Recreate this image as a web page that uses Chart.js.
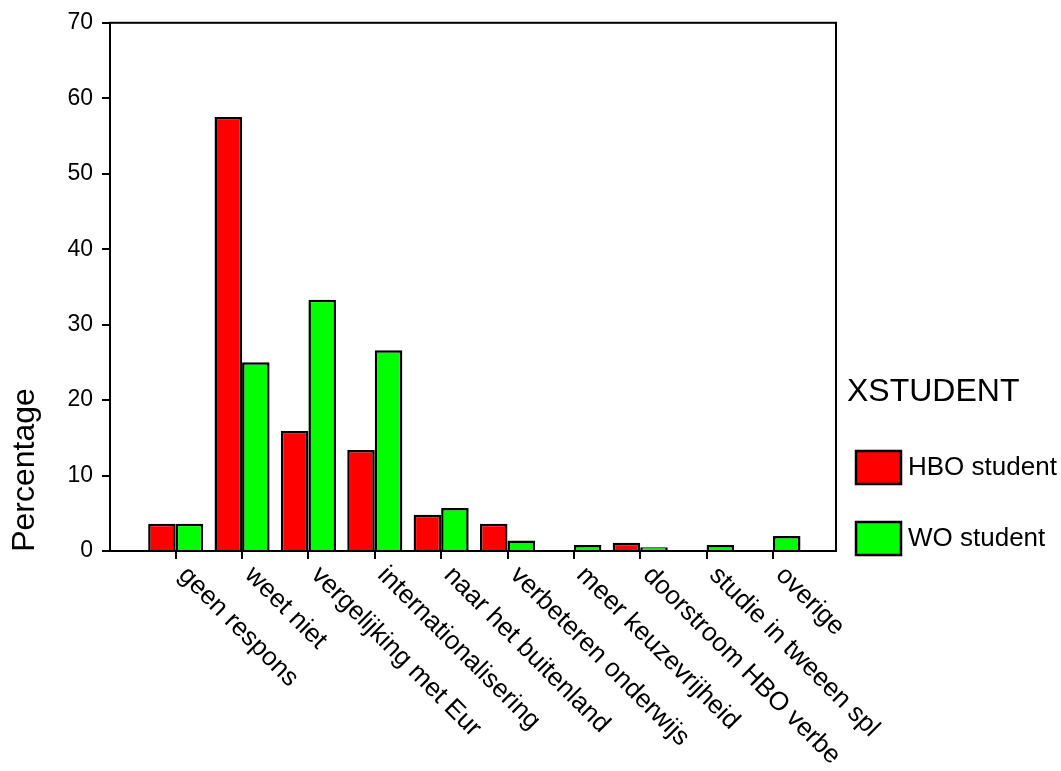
<!DOCTYPE html>
<html>
<head>
<meta charset="utf-8">
<title>XSTUDENT</title>
<script src="https://cdn.jsdelivr.net/npm/chart.js@4.4.1/dist/chart.umd.min.js"></script>
<style>
    html, body { margin: 0; padding: 0; background: #ffffff; }
    #wrap { width: 1061px; height: 771px; }
</style>
</head>
<body>
<div id="wrap"><canvas id="ChartXstudent" width="1061" height="771"></canvas></div>
<script>
// data
var categories = ['geen respons', 'weet niet', 'vergelijking met Eur', 'internationalisering',
    'naar het buitenland', 'verbeteren onderwijs', 'meer keuzevrijheid',
    'doorstroom HBO verbe', 'studie in tweeen spl', 'overige'];
var hboValues = [3.6, 57.5, 15.9, 13.4, 4.8, 3.6, 0, 1.1, 0, 0];
var woValues = [3.6, 25.0, 33.3, 26.6, 5.7, 1.4, 0.8, 0.5, 0.8, 2.0];
var yTicks = [0, 10, 20, 30, 40, 50, 60, 70];
var seriesNames = ['HBO student', 'WO student'];
var legendTitle = 'XSTUDENT';
var axisTitle = 'Percentage';

var fontFamily = '"Liberation Sans", Arial, sans-serif';

function toPoints(values) {
    var pts = [];
    for (i = 0; i < values.length; ++i) {
        pts.push({ x: i, y: values[i] });
    }
    return pts;
}

// frame, rotated category labels, y title and legend
var decorPlugin = {
    id: 'decor',
    afterDraw: function (chart) {
        var ctx = chart.ctx;
        var area = chart.chartArea;
        var xScale = chart.scales.x;

        ctx.save();
        ctx.strokeStyle = '#000';
        ctx.lineWidth = 2;
        ctx.strokeRect(area.left, area.top, area.right - area.left, area.bottom - area.top);

        ctx.fillStyle = '#000';
        ctx.font = '26px ' + fontFamily;
        ctx.textAlign = 'left';
        ctx.textBaseline = 'top';
        for (i = 0; i < categories.length; ++i) {
            var px = xScale.getPixelForValue(i);
            ctx.save();
            ctx.translate(px + 16, area.bottom + 11);
            ctx.rotate(Math.PI / 4);
            ctx.fillText(categories[i], 0, 0);
            ctx.restore();
        }

        ctx.save();
        ctx.font = '32px ' + fontFamily;
        ctx.textAlign = 'center';
        ctx.textBaseline = 'alphabetic';
        ctx.translate(34, 470);
        ctx.rotate(-Math.PI / 2);
        ctx.fillText(axisTitle, 0, 0);
        ctx.restore();

        var lx = area.right + 11;
        ctx.font = '32px ' + fontFamily;
        ctx.textBaseline = 'middle';
        ctx.fillText(legendTitle, lx, 392);

        ctx.font = '26px ' + fontFamily;
        var ds = chart.data.datasets;
        for (i = 0; i < ds.length; ++i) {
            var by = 451 + i * 71;
            ctx.fillStyle = ds[i].backgroundColor;
            ctx.fillRect(lx + 9, by, 45, 33);
            ctx.strokeStyle = '#000';
            ctx.lineWidth = 2.5;
            ctx.strokeRect(lx + 9, by, 45, 33);
            ctx.fillStyle = '#000';
            ctx.fillText(ds[i].label, lx + 61, by + 17);
        }
        ctx.restore();
    }
};

const data = {
    datasets: [{
        label: seriesNames[0],
        backgroundColor: '#ff0000',
        borderColor: '#000000',
        borderWidth: 2.5,
        data: toPoints(hboValues)
    }, {
        label: seriesNames[1],
        backgroundColor: '#00ff00',
        borderColor: '#000000',
        borderWidth: 2.5,
        data: toPoints(woValues)
    }]
};

const config = {
    type: 'bar',
    data: data,
    plugins: [decorPlugin],
    options: {
        responsive: false,
        animation: false,
        devicePixelRatio: 1,
        layout: {
            padding: { left: 0, top: 15, right: 225, bottom: 0 }
        },
        datasets: {
            bar: {
                categoryPercentage: 0.83,
                barPercentage: 1.0
            }
        },
        plugins: {
            legend: { display: false },
            tooltip: { enabled: false }
        },
        scales: {
            x: {
                type: 'linear',
                offset: false,
                min: -0.99,
                max: 9.95,
                afterBuildTicks: function (scale) {
                    scale.ticks = categories.map(function (c, i) { return { value: i }; });
                },
                afterFit: function (scale) {
                    scale.height = 220;
                },
                ticks: { display: false, autoSkip: false },
                grid: {
                    offset: false,
                    drawOnChartArea: false,
                    drawTicks: true,
                    tickLength: 8,
                    color: '#000000',
                    lineWidth: 2
                },
                border: { color: '#000000', width: 2 }
            },
            y: {
                min: yTicks[0],
                max: yTicks[yTicks.length - 1],
                afterBuildTicks: function (scale) {
                    scale.ticks = yTicks.map(function (v) { return { value: v }; });
                },
                afterFit: function (scale) {
                    scale.width = 110;
                },
                ticks: {
                    color: '#000000',
                    padding: 9,
                    font: { family: fontFamily, size: 23 }
                },
                grid: {
                    drawOnChartArea: false,
                    drawTicks: true,
                    tickLength: 8,
                    color: '#000000',
                    lineWidth: 2
                },
                border: { color: '#000000', width: 2 }
            }
        }
    }
};

var myChart = new Chart(document.getElementById('ChartXstudent'), config);
</script>
</body>
</html>
